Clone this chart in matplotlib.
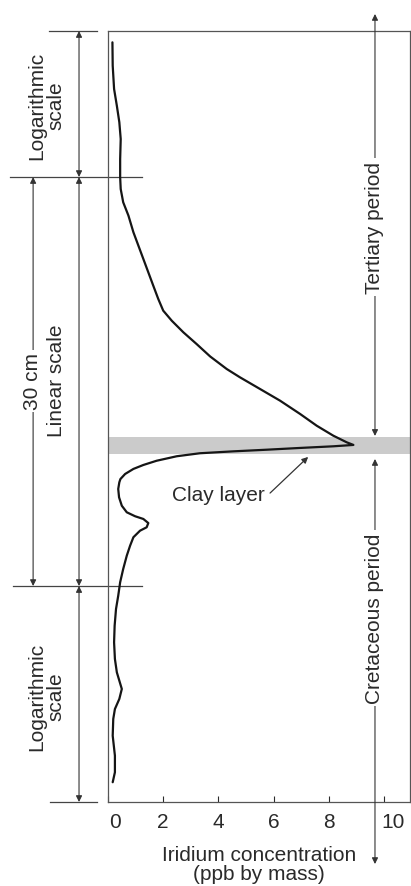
import matplotlib.pyplot as plt
from matplotlib.transforms import blended_transform_factory, ScaledTranslation

plt.rcParams['font.family'] = ['Liberation Sans', 'DejaVu Sans']

# iridium profile, read top to bottom (depth units: linear zone = 30 cm)
depth = [55.72, 54.01, 52.30, 51.07, 49.86, 48.63, 47.16, 45.82, 44.96, 43.99,
         43.01, 41.79, 40.81, 39.83, 38.85, 37.87, 36.90, 36.04, 35.30, 34.45,
         33.59, 32.68, 31.76, 31.15, 30.29, 29.44, 28.46, 27.60, 26.87, 26.38,
         26.19, 26.09, 25.97, 25.84, 25.72, 25.58, 25.36, 25.03, 24.72, 24.43,
         24.06, 23.69, 23.45, 22.96, 22.35, 21.73, 21.25, 20.96, 20.76, 20.46,
         20.15, 19.90, 19.42, 18.80, 18.07, 17.09, 16.12, 15.13, 14.16, 12.93,
         11.71, 10.49, 9.51, 8.29, 7.56, 6.82, 6.09, 4.86, 3.40, 2.18, 1.45]
iridium = [0.16, 0.17, 0.22, 0.32, 0.41, 0.46, 0.44, 0.44, 0.46, 0.55,
           0.74, 0.92, 1.10, 1.28, 1.46, 1.64, 1.82, 2.00, 2.31, 2.73,
           3.21, 3.70, 4.30, 4.78, 5.51, 6.23, 6.96, 7.56, 8.16, 8.65,
           8.89, 8.16, 6.96, 5.75, 4.54, 3.33, 2.49, 1.76, 1.28, 0.92,
           0.62, 0.45, 0.41, 0.37, 0.40, 0.50, 0.68, 0.98, 1.28, 1.46,
           1.40, 1.16, 0.92, 0.80, 0.68, 0.55, 0.44, 0.37, 0.29, 0.24,
           0.22, 0.25, 0.32, 0.50, 0.41, 0.25, 0.19, 0.17, 0.25, 0.25, 0.17]

clay_band = (25.53, 26.77)
log_top = 45.84      # boundary log/linear (upper)
log_bottom = 15.84   # boundary linear/log (lower)
y_max = 56.55
x_ticks = [0, 2, 4, 6, 8, 10]

ink = '#2a2a2a'
fig = plt.figure(figsize=(4.11, 8.87), dpi=100)
ax = fig.add_axes([0.2628, 0.0947, 0.7348, 0.8692])

ax.axhspan(clay_band[0], clay_band[1], color='#cbcbcb', lw=0, zorder=1)
ax.plot(iridium, depth, color='#151515', lw=1.6, zorder=3,
        solid_joinstyle='round', solid_capstyle='round')

ax.set_xlim(0, 10.94)
ax.set_ylim(0, y_max)
ax.set_xticks(x_ticks)
ax.set_yticks([])
ax.tick_params(axis='x', direction='in', length=4, width=0.8, pad=7,
               labelsize=15, colors=ink)
for s in ax.spines.values():
    s.set_color('#555555')
    s.set_linewidth(0.9)
ax.set_xlabel('Iridium concentration\n(ppb by mass)', fontsize=15,
              color=ink, labelpad=10, linespacing=1.0)

# first and last tick labels sit a little to the right in the original
labels = ax.get_xticklabels()
labels[0].set_transform(labels[0].get_transform() +
                        ScaledTranslation(0.07, 0, fig.dpi_scale_trans))
labels[-1].set_transform(labels[-1].get_transform() +
                         ScaledTranslation(0.09, 0, fig.dpi_scale_trans))

tr = blended_transform_factory(ax.transAxes, ax.transData)
lkw = dict(color='#444444', lw=0.9, transform=tr, clip_on=False)

# horizontal boundary lines
ax.plot([-0.195, -0.036], [y_max, y_max], **lkw)
ax.plot([-0.325, 0.113], [log_top, log_top], **lkw)
ax.plot([-0.315, 0.113], [log_bottom, log_bottom], **lkw)
ax.plot([-0.192, -0.036], [0, 0], **lkw)


def dim_arrow(x, y0, y1):
    ax.annotate('', xy=(x, y0), xytext=(x, y1), xycoords=tr, textcoords=tr,
                arrowprops=dict(arrowstyle='<|-|>', color='#333333', lw=0.8,
                                mutation_scale=9, shrinkA=0, shrinkB=0))


dim_arrow(-0.096, y_max, log_top)
dim_arrow(-0.096, log_top, log_bottom)
dim_arrow(-0.096, log_bottom, 0)
dim_arrow(-0.248, log_top, log_bottom)
dim_arrow(0.884, 57.8, 26.85)
dim_arrow(0.884, 25.16, -4.55)

tkw = dict(rotation=90, ha='center', va='center', fontsize=15, color=ink,
           transform=tr, clip_on=False)
box = dict(facecolor='white', edgecolor='none', pad=2)
ax.text(-0.205, 51.13, 'Logarithmic\nscale', linespacing=1.0,
        multialignment='center', **tkw)
ax.text(-0.205, 7.78, 'Logarithmic\nscale', linespacing=1.0,
        multialignment='center', **tkw)
ax.text(-0.169, 30.95, 'Linear scale', **tkw)
ax.text(-0.250, 30.88, '30 cm', bbox=box, **tkw)
ax.text(0.884, 42.18, 'Tertiary period', bbox=box, **tkw)
ax.text(0.884, 13.50, 'Cretaceous period', bbox=box, **tkw)

ax.text(4.0, 22.52, 'Clay layer', ha='center', va='center', fontsize=15,
        color=ink)
ax.annotate('', xy=(7.25, 25.31), xytext=(5.87, 22.66),
            arrowprops=dict(arrowstyle='-|>', color='#333333', lw=0.9,
                            mutation_scale=9, shrinkA=0, shrinkB=0))

fig.savefig('out.png', dpi=100)
